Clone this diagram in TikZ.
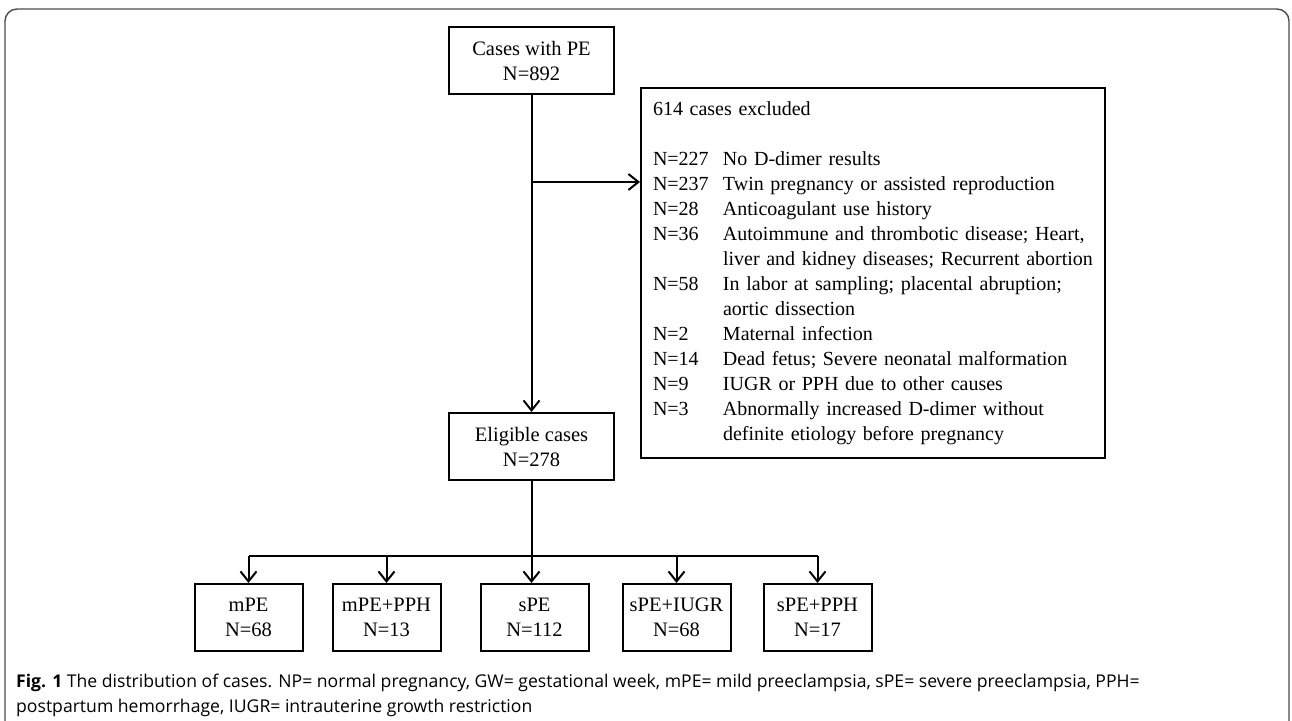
\documentclass[tikz,border=0pt]{standalone}
\usepackage{fontspec}
\setmainfont{Liberation Serif}
\newfontfamily\capfont{Open Sans}
\usetikzlibrary{arrows.meta,positioning}

\begin{document}
\begin{tikzpicture}[
    x=1pt, y=1pt,
    node distance=30pt,
    box/.style={rectangle,draw,line width=2pt,minimum width=165pt,minimum height=67pt,inner sep=0pt,align=center,font=\fontsize{20.5}{25}\selectfont},
    small/.style={box,minimum width=108pt},
    excl/.style={rectangle,draw,line width=2pt,minimum width=464pt,minimum height=370pt,text width=440pt,align=left,font=\fontsize{20}{25}\selectfont},
    line/.style={line width=2pt},
    arr/.style={line,-{Straight Barb[length=10pt,width=16pt,line width=2pt]}},
    caption/.style={align=left,inner sep=0pt,font=\capfont\fontsize{17.6}{25}\selectfont}
]
\useasboundingbox (0,0) rectangle (1292,-720);

% Frame
\draw[line width=1.4pt,black!70,rounded corners=12pt] (5,-740) -- (5,-9) -- (1289,-9) -- (1289,-740);

% Main column
\node[box] (cases) at (531.5,-60.5) {Cases with PE\\N=892};
\node[box,below=317pt of cases] (eligible) {Eligible cases\\N=278};

% Excluded cases
\node[excl,anchor=north west] (excl) at (640,-87) {614 cases excluded\\[25pt]
\makebox[70pt][l]{N=227}No D-dimer results\\
\makebox[70pt][l]{N=237}Twin pregnancy or assisted reproduction\\
\makebox[70pt][l]{N=28}Anticoagulant use history\\
\makebox[70pt][l]{N=36}Autoimmune and thrombotic disease; Heart,\\
\hspace*{70pt}liver and kidney diseases; Recurrent abortion\\
\makebox[70pt][l]{N=58}In labor at sampling; placental abruption;\\
\hspace*{70pt}aortic dissection\\
\makebox[70pt][l]{N=2}Maternal infection\\
\makebox[70pt][l]{N=14}Dead fetus; Severe neonatal malformation\\
\makebox[70pt][l]{N=9}IUGR or PPH due to other causes\\
\makebox[70pt][l]{N=3}Abnormally increased D-dimer without\\
\hspace*{70pt}definite etiology before pregnancy};

% Groups
\node[small,below=102pt of eligible,xshift=3pt] (spe) {sPE\\N=112};
\node[small,left=38pt of spe] (mpepph) {mPE+PPH\\N=13};
\node[small,left=28pt of mpepph] (mpe) {mPE\\N=68};
\node[small,right=32pt of spe] (speiugr) {sPE+IUGR\\N=68};
\node[small,right=31pt of speiugr] (spepph) {sPE+PPH\\N=17};

% Arrows
\coordinate[below=87pt of cases] (split);
\coordinate[below=75pt of eligible] (bus);
\draw[arr] (cases) -- (eligible);
\draw[arr] (split) -- (split -| excl.west);
\draw[line] (eligible) -- (bus);
\draw[line] (bus -| mpe) -- (bus -| spepph);
\draw[arr] (bus) -- (bus |- spe.north);
\foreach \g in {mpe,mpepph,speiugr,spepph}
    \draw[arr] (bus -| \g) -- (\g);

% Caption
\node[caption,anchor=base west] (cap) at (16,-712) {\textbf{Fig. 1} The distribution of cases. NP= normal pregnancy, GW= gestational week, mPE= mild preeclampsia, sPE= severe preeclampsia, PPH=\\postpartum hemorrhage, IUGR= intrauterine growth restriction};

\end{tikzpicture}
\end{document}
